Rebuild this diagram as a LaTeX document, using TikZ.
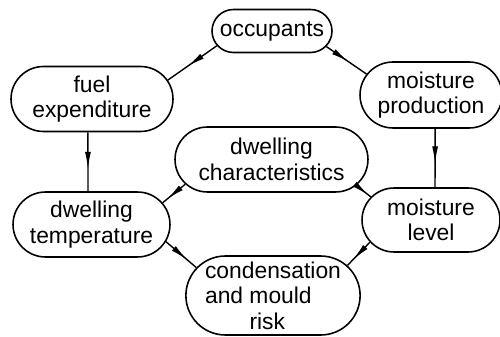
\documentclass[tikz,border=0pt]{standalone}
\usepackage{fontspec}
\setmainfont{Liberation Sans}
\usetikzlibrary{shapes.misc,arrows.meta,decorations.markings}
\tikzset{
  box/.style={rounded rectangle, draw, line width=0.9pt, inner sep=0pt, align=center,
    font=\fontsize{13}{14.5}\selectfont},
  midarr/.style={line width=0.8pt, postaction={decorate},
    decoration={markings, mark=at position #1 with {\arrow{Latex[length=10pt,width=3.4pt]}}}},
  midarr/.default=0.6
}
\begin{document}
\begin{tikzpicture}[x=0.02cm,y=-0.02cm]
\useasboundingbox (0,0) rectangle (500,337);
\node[box, minimum width=2.4cm, minimum height=0.86cm] (occ) at (272,31) {occupants};
\node[box, minimum width=3.24cm, minimum height=1.3cm] (fuel) at (92,99) {fuel\\expenditure};
\node[box, minimum width=2.84cm, minimum height=1.32cm] (prod) at (431,95) {moisture\\production};
\node[box, minimum width=3.86cm, minimum height=1.3cm] (chars) at (271.5,159.5) {dwelling\\characteristics};
\node[box, minimum width=3.14cm, minimum height=1.3cm] (temp) at (91.5,224.5) {dwelling\\temperature};
\node[box, minimum width=2.76cm, minimum height=1.28cm] (lvl) at (431,220) {moisture\\level};
\node[box, minimum width=3.36cm, minimum height=1.58cm, align=left] (cond) at (273,295.5) {condensation\\and mould\\\phantom{and }risk};

\draw[midarr=0.6] (occ.195) -- (fuel.14);
\draw[midarr=0.55] (occ.-16) -- (prod.162);
\draw[midarr=0.63] (fuel.263) -- (temp.96);
\draw[midarr=0.6] (prod.-83) -- (lvl.83);
\draw[midarr=0.8] (chars.196) -- (temp.17);
\draw[midarr=0.85] (chars.-17) -- (lvl.159);
\draw[midarr=0.7] (temp.-13) -- (cond.160);
\draw[midarr=0.75] (lvl.200) -- (cond.22);
\end{tikzpicture}
\end{document}
